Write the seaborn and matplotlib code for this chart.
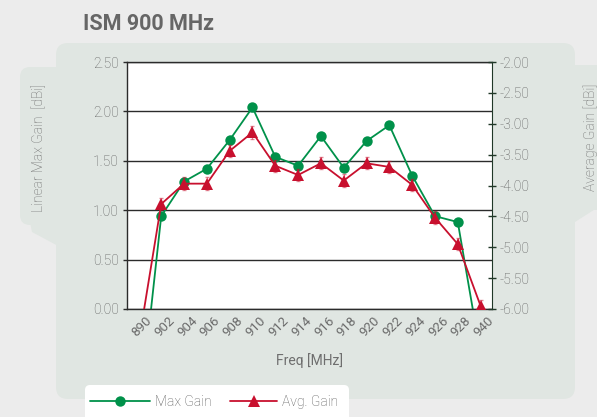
import numpy as np
import pandas as pd
import matplotlib
matplotlib.use("Agg")
import matplotlib.pyplot as plt
import seaborn as sns
from matplotlib.patches import FancyBboxPatch, Polygon
from matplotlib.lines import Line2D
from matplotlib.transforms import ScaledTranslation

# Données
freq_labels = ["890", "902", "904", "906", "908", "910", "912", "914",
               "916", "918", "920", "922", "924", "926", "928", "940"]
max_gain = [-1.17, 0.94, 1.29, 1.42, 1.71, 2.04, 1.54, 1.45,
            1.75, 1.43, 1.70, 1.86, 1.35, 0.94, 0.88, -0.46]
avg_gain = [-6.57, -4.30, -3.97, -3.97, -3.44, -3.14, -3.68, -3.83,
            -3.64, -3.92, -3.64, -3.70, -3.99, -4.52, -4.95, -5.95]

df = pd.DataFrame({"pos": np.arange(len(freq_labels)),
                   "Max Gain": max_gain, "Avg. Gain": avg_gain})

sns.set_style("white")
plt.rcParams["font.family"] = ["Roboto", "DejaVu Sans"]
plt.rcParams["font.weight"] = "light"

GREEN = "#00914a"
RED = "#c8102e"
PANEL = "#e0e6e2"
TXT = "#5a5a5a"
LBL = "#6e6e6e"
DARK = "#2b2b2b"

fig = plt.figure(figsize=(5.97, 4.17), dpi=100, facecolor="#ececec")

# Fond décoratif (coordonnées en pixels)
bg = fig.add_axes([0, 0, 1, 1])
bg.set_xlim(0, 597)
bg.set_ylim(417, 0)
bg.axis("off")
bg.add_patch(FancyBboxPatch((56, 43), 519, 356, boxstyle="round,pad=0,rounding_size=12",
                            fc=PANEL, ec="none"))
bg.add_patch(FancyBboxPatch((20, 67), 60, 158, boxstyle="round,pad=0,rounding_size=10",
                            fc=PANEL, ec="none"))
bg.add_patch(Polygon([(28, 212), (60, 212), (60, 247), (32, 232)], fc=PANEL, ec="none"))
bg.add_patch(FancyBboxPatch((560, 65), 60, 145, boxstyle="round,pad=0,rounding_size=10",
                            fc=PANEL, ec="none"))
bg.add_patch(Polygon([(560, 195), (597, 195), (597, 208), (575, 222), (560, 222)],
                     fc=PANEL, ec="none"))
bg.add_patch(FancyBboxPatch((85, 385), 264, 60, boxstyle="round,pad=0,rounding_size=5",
                            fc="white", ec="none"))

# Axe principal
ax = fig.add_axes([127 / 597, 1 - 309 / 417, 365 / 597, 247 / 417])
ax.set_facecolor("white")
sns.lineplot(data=df, x="pos", y="Max Gain", ax=ax, color=GREEN, marker="o",
             markersize=7.5, markeredgewidth=0, linewidth=1.3, sort=False)
ax.set_xlim(-0.5, 15.5)
ax.set_ylim(0, 2.5)
ax.set_yticks(np.arange(0, 2.51, 0.5))
ax.set_yticklabels([f"{v:.2f}" for v in np.arange(0, 2.51, 0.5)])
ax.yaxis.grid(True, color=DARK, linewidth=1)
ax.set_xticks(np.arange(-0.5, 16, 1))
ax.set_xticklabels([""] + freq_labels, rotation=45, ha="right", va="center",
                   rotation_mode="anchor", fontweight="normal")
shift = ScaledTranslation(3 / 72, 0, fig.dpi_scale_trans)
for lab in ax.get_xticklabels():
    lab.set_transform(lab.get_transform() + shift)
ax.tick_params(axis="x", direction="inout", length=8.5, width=1, color="#444444",
               labelcolor="#6a6a6a", labelsize=9.5, pad=3)
ax.tick_params(axis="y", direction="out", length=3, width=1, color=DARK,
               labelcolor=TXT, labelsize=10, pad=3)
for s in ["left", "bottom", "top"]:
    ax.spines[s].set_color(DARK)
    ax.spines[s].set_linewidth(1)
ax.spines["right"].set_visible(False)
ax.set_xlabel("Freq [MHz]", color=LBL, fontsize=10, labelpad=10)
ax.set_ylabel("")

# Axe secondaire
ax2 = ax.twinx()
ax2.errorbar(df["pos"], df["Avg. Gain"], yerr=0.1, fmt="none", ecolor=RED,
             elinewidth=0.8, capsize=1.5, alpha=0.5)
sns.lineplot(data=df, x="pos", y="Avg. Gain", ax=ax2, color=RED, marker="^",
             markersize=8, markeredgewidth=0, linewidth=1.3, sort=False)
ax2.set_ylim(-6, -2)
ax2.set_yticks(np.arange(-6, -1.99, 0.5))
ax2.set_yticklabels([f"{v:.2f}" for v in np.arange(-6, -1.99, 0.5)])
ax2.tick_params(axis="y", direction="inout", length=5.5, width=1, color="#203828",
                labelcolor=TXT, labelsize=10, pad=3)
ax2.spines["right"].set_color("#203828")
for s in ["left", "bottom", "top"]:
    ax2.spines[s].set_visible(False)
ax2.set_ylabel("")

# Textes
fig.text(83 / 597, 1 - 30 / 417, "ISM 900 MHz", fontsize=15.5, fontweight="bold",
         color="#666666", va="baseline")
fig.text(39 / 597, 1 - 148 / 417, "Linear Max Gain  [dBi]", rotation=90,
         color=LBL, fontsize=10, ha="center", va="center")
fig.text(591 / 597, 1 - 137 / 417, "Average Gain [dBi]", rotation=90,
         color=LBL, fontsize=10, ha="center", va="center")

# Légende
h1 = Line2D([], [], color=GREEN, marker="o", markersize=7.5, markeredgewidth=0, lw=1.3)
h2 = Line2D([], [], color=RED, marker="^", markersize=8, markeredgewidth=0, lw=1.3)
leg1 = fig.legend([h1], ["Max Gain"], loc="center left", frameon=False,
                  bbox_to_anchor=(86 / 597, 1 - 402 / 417), handlelength=4.3,
                  handletextpad=0.35, borderaxespad=0, borderpad=0.3,
                  prop={"size": 10, "weight": "light"}, labelcolor=TXT)
leg2 = fig.legend([h2], ["Avg. Gain"], loc="center left", frameon=False,
                  bbox_to_anchor=(226 / 597, 1 - 402 / 417), handlelength=3.4,
                  handletextpad=0.35, borderaxespad=0, borderpad=0.3,
                  prop={"size": 10, "weight": "light"}, labelcolor=TXT)

fig.savefig("out.png", dpi=100, facecolor=fig.get_facecolor())
